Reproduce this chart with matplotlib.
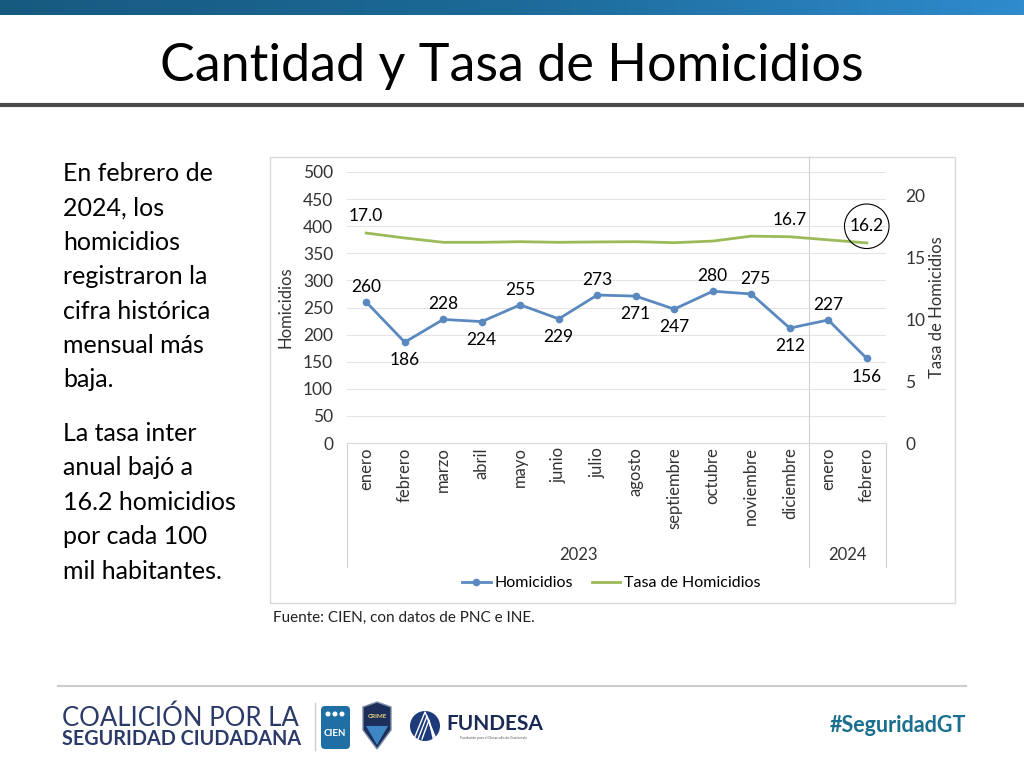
import matplotlib.pyplot as plt
import numpy as np
from matplotlib.colors import LinearSegmentedColormap
from matplotlib.patches import Rectangle, FancyBboxPatch, Circle, Polygon
from matplotlib.transforms import blended_transform_factory

plt.rcParams['font.family'] = ['Lato', 'DejaVu Sans']

# datos
meses = ["enero", "febrero", "marzo", "abril", "mayo", "junio", "julio", "agosto",
         "septiembre", "octubre", "noviembre", "diciembre", "enero", "febrero"]
anios = ["2023", "2024"]
meses_por_anio = [12, 2]
homicidios = [260, 186, 228, 224, 255, 229, 273, 271, 247, 280, 275, 212, 227, 156]
tasa = [17.0, 16.6, 16.25, 16.25, 16.3, 16.25, 16.28, 16.3, 16.22, 16.35, 16.75, 16.7, 16.45, 16.2]
# posicion de las etiquetas de homicidios (arriba / abajo)
etiqueta_arriba = [True, False, True, False, True, False, True, False, False, True, True, False, True, False]
tasa_con_etiqueta = [0, 11, 13]

texto_1 = "En febrero de\n2024, los\nhomicidios\nregistraron la\ncifra histórica\nmensual más\nbaja."
texto_2 = "La tasa inter\nanual bajó a\n16.2 homicidios\npor cada 100\nmil habitantes."

W, H = 1024, 768
fig = plt.figure(figsize=(W / 100, H / 100), dpi=100)

# capa de decoracion en pixeles
deco = fig.add_axes([0, 0, 1, 1])
deco.axis('off')

# barra superior con degradado
cmap_barra = LinearSegmentedColormap.from_list("barra", ["#175a80", "#1c6a98", "#2f8bcd"])
deco.imshow(np.linspace(0, 1, 256)[None, :], cmap=cmap_barra, aspect='auto',
            extent=(0, W, 15, 0))
deco.set_xlim(0, W)
deco.set_ylim(H, 0)

deco.text(W / 2, 66, "Cantidad y Tasa de Homicidios", fontsize=37.5, ha='center', va='center',
          color='black')
deco.plot([0, W], [105, 105], color='#4a4a4a', lw=3)

# textos de la izquierda
deco.text(63, 162, texto_1, fontsize=18, va='top', linespacing=1.6, color='black')
deco.text(63, 422, texto_2, fontsize=18, va='top', linespacing=1.6, color='black')

# marco del grafico
deco.add_patch(Rectangle((270, 157), 685, 446, fill=False, ec='#d9d9d9', lw=1))
deco.text(273, 618, "Fuente: CIEN, con datos de PNC e INE.", fontsize=11, va='center',
          color='#222222')

# pie de pagina
deco.plot([58, 966], [686, 686], color='#cccccc', lw=1.5)
azul_osc = '#2c3a6a'
deco.text(62, 718, "COALICIÓN POR LA", fontsize=18.5, color=azul_osc, va='center')
deco.text(62, 739, "SEGURIDAD CIUDADANA", fontsize=14.2, fontweight='bold', color=azul_osc,
          va='center')
deco.plot([315, 315], [703, 750], color='#cccccc', lw=1)
deco.add_patch(FancyBboxPatch((321, 706), 29, 43, boxstyle="round,pad=0,rounding_size=4",
                              fc='#1f6fa5', ec='none'))
for cx in (328, 335, 342):
    deco.add_patch(Circle((cx, 714), 2.5, fc='white', ec='none'))
deco.text(335, 733, "CIEN", fontsize=7, fontweight='bold', color='white', ha='center',
          va='center')
deco.add_patch(Polygon([(363, 707), (377, 702), (391, 707), (391, 730), (377, 749), (363, 730)],
                       fc='#1c2f5a', ec='#7f8fa8', lw=1))
deco.add_patch(Polygon([(366, 726), (388, 726), (377, 745)], fc='#3f86c4', ec='none'))
deco.text(377, 716, "CRIME", fontsize=4.5, fontweight='bold', color='#e6d27a', ha='center',
          va='center')
deco.add_patch(Circle((425, 726), 15, fc='#1d3a7a', ec='none'))
for dx in (0, 4, 8):
    deco.plot([414 + dx, 425 + dx / 2, 436 - dx / 3], [739, 712 + dx, 739], color='white', lw=1)
deco.text(446, 724, "FUNDESA", fontsize=15, fontweight='bold', color='#1b2a55', va='center')
deco.text(460, 738, "Fundación para el Desarrollo de Guatemala", fontsize=2.5, color='#555555',
          va='center')
deco.text(966, 726, "#SeguridadGT", fontsize=15.5, fontweight='bold', color='#1b6f8f',
          ha='right', va='center')

# grafico
ax = fig.add_axes([347 / W, 1 - 443 / H, (886 - 347) / W, (443 - 172) / H])
x = np.arange(len(meses))
azul = '#5a89bf'
verde = '#9bbb59'
gris_txt = '#333333'

l1, = ax.plot(x, homicidios, color=azul, lw=2, marker='o', ms=4.5, label="Homicidios", zorder=3)
ax.set_xlim(-0.5, len(meses) - 0.5)
ax.set_ylim(0, 500)
ax.set_yticks(range(0, 501, 50))
ax.grid(axis='y', color='#e4e4e4', lw=0.8)
ax.set_axisbelow(True)
ax.set_xticks(x)
ax.set_xticklabels(meses, rotation=90, fontsize=12, color=gris_txt)
ax.tick_params(axis='x', length=0, pad=3)
ax.tick_params(axis='y', length=0, pad=10, labelsize=12.5, labelcolor=gris_txt)
ax.set_ylabel("Homicidios", fontsize=12, color=gris_txt)
ax.yaxis.set_label_coords(-0.10, 0.5)

ax2 = ax.twinx()
l2, = ax2.plot(x, tasa, color=verde, lw=2, label="Tasa de Homicidios")
ax2.set_ylim(0, (443 - 172) / 61.75 * 5)
ax2.set_yticks([0, 5, 10, 15, 20])
ax2.tick_params(axis='y', length=0, pad=14, labelsize=12.5, labelcolor=gris_txt)
ax2.set_ylabel("Tasa de Homicidios", fontsize=12, color=gris_txt)
ax2.yaxis.set_label_coords(1.08, 0.5)

for a in (ax, ax2):
    for s in a.spines.values():
        s.set_visible(False)
ax.spines['bottom'].set_visible(True)
ax.spines['bottom'].set_color('#d9d9d9')

# etiquetas de datos
for i, (v, arriba) in enumerate(zip(homicidios, etiqueta_arriba)):
    dy = 11 if arriba else -13
    dx = 3 if i == 10 else 0
    ax.annotate(str(v), (i, v), xytext=(dx, dy), textcoords='offset points', ha='center',
                va='center', fontsize=12.5, color='black')
for i in tasa_con_etiqueta:
    kw = {}
    if i == len(tasa) - 1:
        kw['bbox'] = dict(boxstyle='circle,pad=0.3', fc='none', ec='black', lw=0.8)
    ax2.annotate(f"{tasa[i]:.1f}", (i, tasa[i]), xytext=(0, 12), textcoords='offset points',
                 ha='center', va='center', fontsize=12.5, color='black', **kw)

# separadores de anio y etiquetas
fondo = -124 / 271
inicio = 0
trans = blended_transform_factory(ax.transData, ax.transAxes)
ax.axvline(-0.5, ymin=fondo, ymax=0, color='#d0d0d0', lw=0.8, clip_on=False)
for anio, n in zip(anios, meses_por_anio):
    centro = inicio + n / 2 - 0.5
    ax.text(centro, -112 / 271, anio, transform=trans, ha='center', va='center', fontsize=12,
            color=gris_txt)
    inicio += n
    tope = 1 + 15 / 271 if inicio < len(meses) else 0
    ax.axvline(inicio - 0.5, ymin=fondo, ymax=tope, color='#d0d0d0', lw=0.8, clip_on=False)

ax.legend(handles=[l1, l2], loc='center', bbox_to_anchor=(0.49, -140 / 271), ncol=2,
          frameon=False, fontsize=11.5, handlelength=1.8, columnspacing=1.2, handletextpad=0.2)

fig.savefig("out.png", dpi=100)
